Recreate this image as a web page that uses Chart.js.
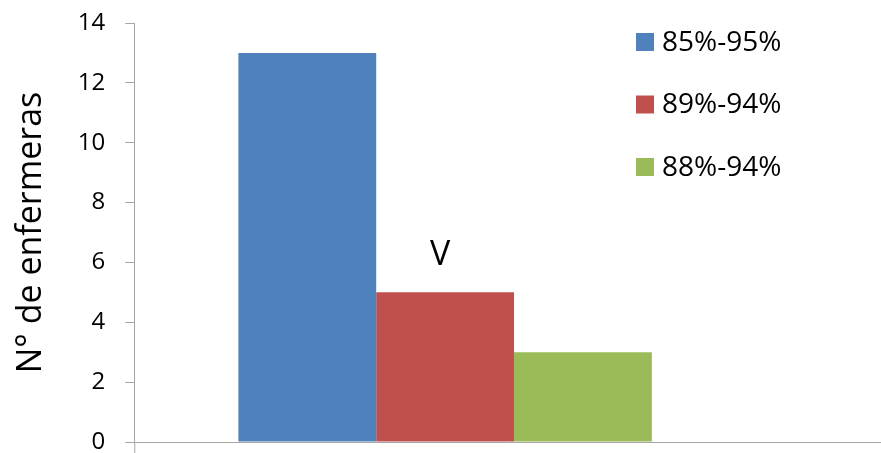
<!DOCTYPE html>
<html>
<head>
<meta charset="utf-8">
<script src="https://cdn.jsdelivr.net/npm/chart.js@4.4.0/dist/chart.umd.min.js"></script>
<style>
  html, body { margin: 0; padding: 0; background: #fff; }
  #wrap { width: 881px; height: 453px; }
</style>
</head>
<body>
<div id="wrap"><canvas id="myChart"></canvas></div>
<script>
var categorias = ['V'];
var series = ['85%-95%', '89%-94%', '88%-94%'];
var valores = [[13], [5], [3]];
var colores = ['#4F81BD', '#C0504D', '#9BBB59'];
var ticksY = [0, 2, 4, 6, 8, 10, 12, 14];

var gris = '#a6a6a6';
var fuente = '"Open Sans", "DejaVu Sans", sans-serif';

// eje x largo, etiqueta de categoria y leyenda a mano
var extras = {
    id: 'extras',
    afterDraw: function (chart) {
        var c = chart.ctx;
        var area = chart.chartArea;
        var x = chart.scales.x;
        var y = chart.scales.y;
        c.save();
        c.strokeStyle = gris;
        c.lineWidth = 1;
        c.beginPath();
        c.moveTo(area.left, y.getPixelForValue(0) + 0.5);
        c.lineTo(chart.width, y.getPixelForValue(0) + 0.5);
        c.moveTo(area.left + 0.5, area.bottom);
        c.lineTo(area.left + 0.5, chart.height);
        c.stroke();

        c.fillStyle = '#000';
        c.font = '34px ' + fuente;
        c.textAlign = 'center';
        c.textBaseline = 'middle';
        c.fillText(categorias[0], x.getPixelForValue(0) - 5, 255);

        c.font = '28px ' + fuente;
        c.textAlign = 'left';
        chart.data.datasets.forEach(function (ds, i) {
            var yy = 42 + i * 62.5;
            c.fillStyle = ds.backgroundColor;
            c.fillRect(636, yy - 9, 18, 18);
            c.fillStyle = '#000';
            c.fillText(ds.label, 662, yy + 1);
        });
        c.restore();
    }
};

var ctx = document.getElementById('myChart');
new Chart(ctx, {
    type: 'bar',
    data: {
        labels: categorias,
        datasets: series.map(function (s, i) {
            return {
                label: s,
                data: valores[i],
                backgroundColor: colores[i],
                borderWidth: 0
            };
        })
    },
    options: {
        responsive: true,
        maintainAspectRatio: false,
        animation: false,
        layout: { padding: { top: 23, right: 125, bottom: 11, left: 4 } },
        categoryPercentage: 0.665,
        barPercentage: 1,
        plugins: {
            legend: { display: false },
            tooltip: { enabled: false }
        },
        scales: {
            x: {
                display: false
            },
            y: {
                min: 0,
                max: 14,
                afterBuildTicks: function (axis) {
                    axis.ticks = ticksY.map(function (v) { return { value: v }; });
                },
                afterFit: function (axis) {
                    axis.paddingTop = 0;
                    axis.paddingBottom = 0;
                },
                grid: { drawOnChartArea: false, tickLength: 9, color: gris },
                border: { color: gris },
                ticks: {
                    padding: 20,
                    color: '#000',
                    font: { family: fuente, size: 24 }
                },
                title: {
                    display: true,
                    text: 'N° de enfermeras',
                    color: '#000',
                    padding: { top: 7, bottom: 6 },
                    font: { family: fuente, size: 34 }
                }
            }
        }
    },
    plugins: [extras]
});
</script>
</body>
</html>
